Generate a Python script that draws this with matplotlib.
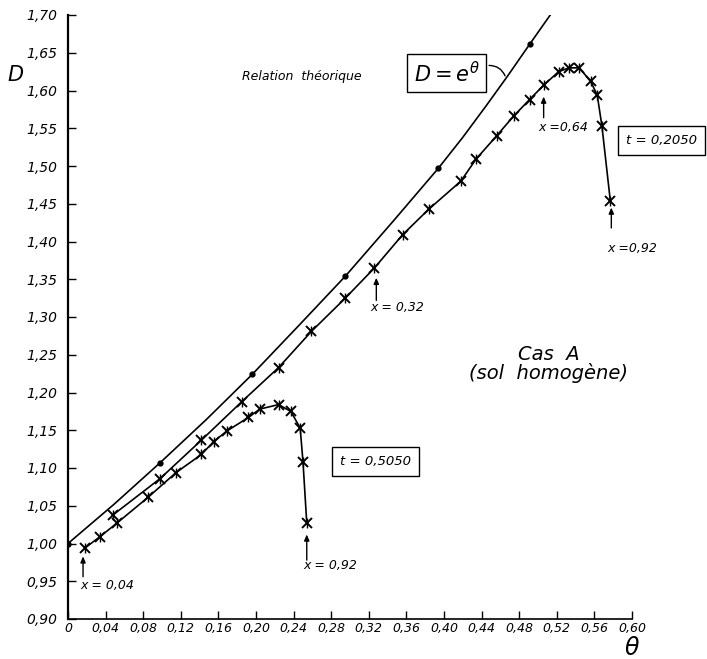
import numpy as np
import matplotlib
matplotlib.use("Agg")
import matplotlib.pyplot as plt

theo_theta = [0.0, 0.049, 0.098, 0.147, 0.196, 0.245, 0.295, 0.346, 0.394, 0.420,
              0.445, 0.467, 0.491, 0.513]
theo_D = [1.000, 1.052, 1.107, 1.164, 1.224, 1.288, 1.354, 1.427, 1.497, 1.538,
          1.580, 1.618, 1.661, 1.700]
# abscisses des points noirs
dots_theta = [0.0, 0.098, 0.196, 0.295, 0.394, 0.491]
dots_D = [1.000, 1.107, 1.224, 1.354, 1.497, 1.661]

# t = 0,2050
t1_theta = [0.048, 0.098, 0.142, 0.185, 0.224, 0.259, 0.295, 0.326, 0.356, 0.384,
            0.418, 0.434, 0.456, 0.474, 0.491, 0.506, 0.522, 0.533, 0.544, 0.556,
            0.563, 0.568, 0.577]
t1_D = [1.038, 1.086, 1.137, 1.188, 1.233, 1.281, 1.325, 1.365, 1.409, 1.443,
        1.480, 1.509, 1.540, 1.566, 1.588, 1.607, 1.625, 1.630, 1.630, 1.612,
        1.594, 1.553, 1.453]

# t = 0,5050
t2_theta = [0.018, 0.034, 0.052, 0.085, 0.115, 0.142, 0.155, 0.169, 0.192, 0.204,
            0.224, 0.237, 0.247, 0.250, 0.254]
t2_D = [0.994, 1.009, 1.027, 1.061, 1.094, 1.118, 1.135, 1.149, 1.167, 1.178,
        1.184, 1.175, 1.153, 1.108, 1.027]

xticks = np.round(np.arange(0, 0.601, 0.04), 2)
yticks = np.round(np.arange(0.90, 1.701, 0.05), 2)


def virgule(v, nd=2):
    if v == 0:
        return "0"
    return ("%.*f" % (nd, v)).replace(".", ",")


plt.rcParams['font.family'] = 'DejaVu Sans'
plt.rcParams['mathtext.fontset'] = 'dejavusans'

fig = plt.figure(figsize=(7.07, 6.59), dpi=100)
ax = fig.add_axes([68 / 707, 40 / 659, 564 / 707, 604 / 659])

ax.plot(theo_theta, theo_D, color='black', lw=1.2)
ax.plot(dots_theta, dots_D, 'o', color='black', ms=3.5)

for th, dd in [(t1_theta, t1_D), (t2_theta, t2_D)]:
    ax.plot(th, dd, color='black', lw=1.2)
    ax.plot(th, dd, 'x', color='black', ms=7.5, mew=1.4)
    ax.plot(th, dd, '|', color='black', ms=7, mew=1.0)

ax.set_xlim(0, 0.60)
ax.set_ylim(0.90, 1.70)
ax.set_xticks(xticks)
ax.set_yticks(yticks)
ax.set_xticklabels([virgule(v) for v in xticks], fontsize=9, style='italic')
ax.set_yticklabels([virgule(v) for v in yticks], fontsize=10, style='italic')
ax.tick_params(axis='x', direction='in', length=6, width=1.0, pad=2)
ax.tick_params(axis='y', direction='in', length=6, width=1.0, pad=8)
for s in ['top', 'right']:
    ax.spines[s].set_visible(False)
ax.spines['left'].set_linewidth(1.6)
ax.spines['bottom'].set_linewidth(1.2)

ax.text(-0.056, 1.62, "D", fontsize=15, style='italic', ha='center', va='center',
        clip_on=False)
ax.text(0.60, 0.862, r"$\theta$", fontsize=17, ha='center', va='center', clip_on=False)

ax.text(0.185, 1.618, "Relation  théorique", fontsize=9, style='italic',
        ha='left', va='center')
ax.text(0.403, 1.623, r"$D = e^{\theta}$", fontsize=15, ha='center', va='center',
        bbox=dict(boxstyle='square,pad=0.3', fc='white', ec='black', lw=1.0))
ax.annotate("", xy=(0.466, 1.616), xytext=(0.445, 1.633),
            arrowprops=dict(arrowstyle='-', color='black', lw=1.0,
                            connectionstyle='arc3,rad=-0.4'))

ax.text(0.594, 1.534, "t = 0,2050", fontsize=9.5, style='italic', ha='left', va='center',
        clip_on=False,
        bbox=dict(boxstyle='square,pad=0.6', fc='white', ec='black', lw=1.0))
ax.text(0.327, 1.109, "t = 0,5050", fontsize=9.5, style='italic', ha='center', va='center',
        bbox=dict(boxstyle='square,pad=0.6', fc='white', ec='black', lw=1.0))

ax.text(0.511, 1.238, "Cas  A\n(sol  homogène)", fontsize=14, style='italic',
        ha='center', va='center', linespacing=0.9)

# fleches x = ...
fleches = [
    (0.016, 0.956, 0.983, 0.013, 0.945, "x = 0,04"),
    (0.254, 0.978, 1.012, 0.250, 0.971, "x = 0,92"),
    (0.328, 1.322, 1.352, 0.322, 1.312, "x = 0,32"),
    (0.506, 1.564, 1.592, 0.500, 1.551, "x =0,64"),
    (0.578, 1.418, 1.445, 0.574, 1.391, "x =0,92"),
]
for xa, y0, y1, xt, yt, lab in fleches:
    ax.annotate("", xy=(xa, y1), xytext=(xa, y0),
                arrowprops=dict(arrowstyle='-|>,head_length=0.35,head_width=0.15',
                                color='black', lw=1.0, shrinkA=0, shrinkB=0))
    ax.text(xt, yt, lab, fontsize=9, style='italic', ha='left', va='center')

fig.savefig("out.png", dpi=100)
